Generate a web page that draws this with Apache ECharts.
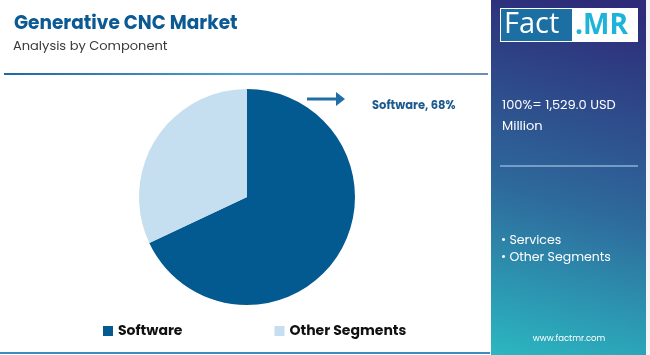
<!DOCTYPE html>
<html><head><meta charset="utf-8">
<script src="https://cdn.jsdelivr.net/npm/echarts@6/dist/echarts.min.js"></script>
<style>html,body{margin:0;padding:0;background:#fff}#c{width:650px;height:355px}</style>
</head><body><div id="c"></div>
<script>
const categories = ["Software", "Other Segments"];
const values = [68, 32];
const colors = ["#035a91", "#c5def0"];
const totalText = "100%= 1,529.0 USD";
const totalUnit = "Million";
const otherList = ["Services", "Other Segments"];
const titleText = "Generative CNC Market";
const subtitleText = "Analysis by Component";
const FONT = "Poppins, 'Open Sans', sans-serif";

const chart = echarts.init(document.getElementById('c'));
chart.setOption({
  animation: false,
  backgroundColor: '#ffffff',
  title: [
    {text: titleText, left: 9, top: 10, textStyle: {fontFamily: FONT, fontSize: 18.5, fontWeight: 'bold', color: '#0b5a93'}},
    {text: subtitleText, left: 8, top: 35, textStyle: {fontFamily: FONT, fontSize: 13, fontWeight: 'normal', color: '#3a3a3a'}}
  ],
  legend: {
    data: categories, left: 98, top: 319, itemGap: 92, itemWidth: 10, itemHeight: 10, icon: 'rect',
    textStyle: {fontFamily: FONT, fontSize: 14, fontWeight: 'bold', color: '#111'}
  },
  series: [{
    type: 'pie', center: [247, 197], radius: [0, 108], startAngle: 90, clockwise: true,
    label: {show: false}, labelLine: {show: false}, silent: true,
    data: categories.map((c, i) => ({name: c, value: values[i], itemStyle: {color: colors[i]}}))
  }],
  graphic: [
    {type: 'rect', shape: {x: 491, y: 0, width: 155, height: 355}, silent: true,
     style: {fill: new echarts.graphic.LinearGradient(0, 1, 0.6, 0, [
       {offset: 0, color: '#2bb7c1'}, {offset: 0.45, color: '#2e6a9c'}, {offset: 1, color: '#2e2b78'}])}},
    {type: 'rect', shape: {x: 646, y: 0, width: 4, height: 355}, style: {fill: '#f4f4f6'}},
    {type: 'rect', shape: {x: 500, y: 8, width: 138, height: 34}, style: {fill: '#ffffff'}},
    {type: 'rect', shape: {x: 501, y: 9, width: 71, height: 32}, style: {fill: '#1b6fa3'}},
    {type: 'text', x: 504, y: 25, style: {text: 'Fact', fontFamily: "'Open Sans', sans-serif", fontSize: 29, fill: '#ffffff', verticalAlign: 'middle'}},
    {type: 'text', x: 575, y: 26, style: {text: '.MR', fontFamily: "'Open Sans', sans-serif", fontSize: 28, fontWeight: 'bold', fill: '#1eb3d8', verticalAlign: 'middle'}},
    {type: 'line', shape: {x1: 4, y1: 74, x2: 488, y2: 74}, style: {stroke: new echarts.graphic.LinearGradient(0,0,1,0,[{offset:0,color:'#1e6aa0'},{offset:0.5,color:'#4f9fd0'},{offset:1,color:'#6a8fb6'}]), lineWidth: 2}},
    {type: 'line', shape: {x1: 0, y1: 353, x2: 490, y2: 353}, style: {stroke: '#3c8cc4', lineWidth: 2}},
    {type: 'text', x: 502, y: 106, style: {text: totalText, fontFamily: FONT, fontSize: 13, fill: '#ffffff', verticalAlign: 'middle'}},
    {type: 'text', x: 502, y: 127, style: {text: totalUnit, fontFamily: FONT, fontSize: 13, fill: '#ffffff', verticalAlign: 'middle'}},
    {type: 'line', shape: {x1: 500, y1: 166, x2: 638, y2: 166}, style: {stroke: '#8fb0d8', lineWidth: 1.5}},
    {type: 'text', x: 501, y: 249, style: {text: otherList.map(s => '• ' + s).join('\n'), lineHeight: 17, fontFamily: FONT, fontSize: 12.5, fill: '#ffffff', verticalAlign: 'middle'}},
    {type: 'text', x: 569, y: 339, style: {text: 'www.factmr.com', fontFamily: FONT, fontSize: 8.5, fill: '#ffffff', align: 'center', verticalAlign: 'middle'}},
    {type: 'line', shape: {x1: 307, y1: 99, x2: 338, y2: 99}, style: {stroke: '#1f6ea6', lineWidth: 3}},
    {type: 'polygon', shape: {points: [[336, 92], [345, 99], [336, 106]]}, style: {fill: '#1f6ea6'}},
    {type: 'text', x: 372, y: 106, style: {text: categories[0] + ', ' + values[0] + '%', fontFamily: FONT, fontSize: 11.5, fontWeight: 'bold', fill: '#1c5a8e', verticalAlign: 'middle'}}
  ]
});
</script></body></html>
